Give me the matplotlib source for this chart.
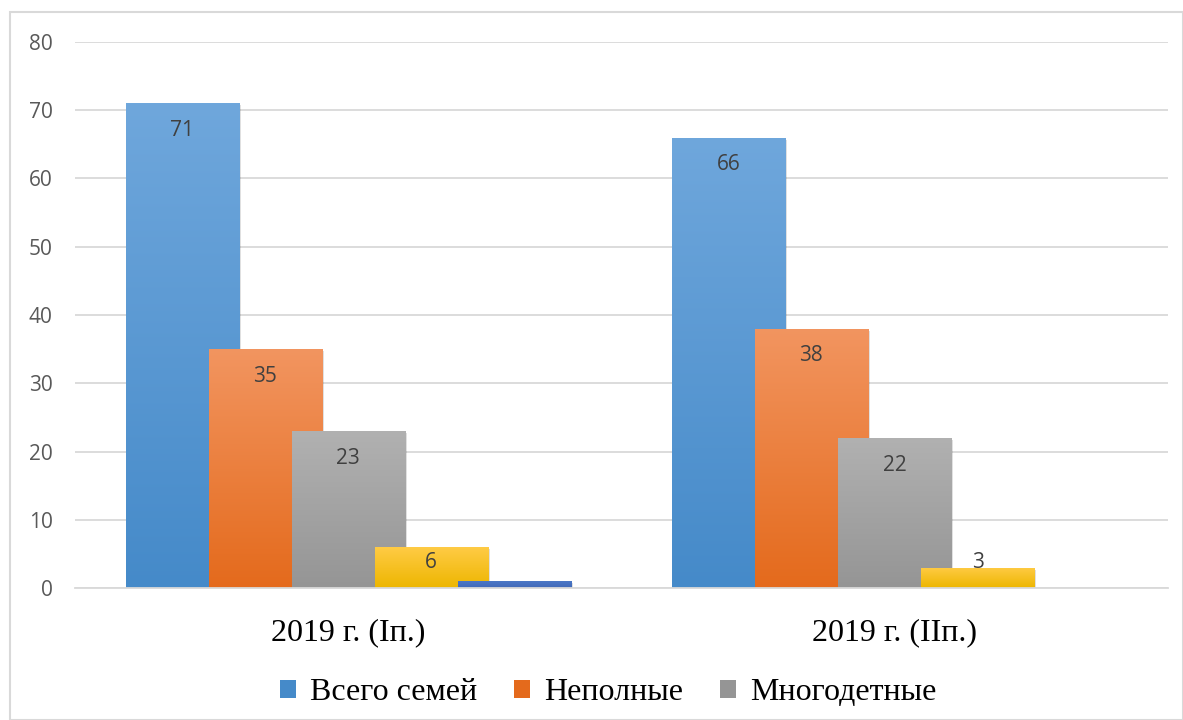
import numpy as np
import matplotlib.pyplot as plt
from matplotlib.patches import Rectangle
from matplotlib.colors import LinearSegmentedColormap

categories = ['2019 г. (Iп.)', '2019 г. (IIп.)']
series_names = ['Всего семей', 'Неполные', 'Многодетные', '', '']
values = [
    [71, 66],   # Всего семей
    [35, 38],   # Неполные
    [23, 22],   # Многодетные
    [6, 3],     # без подписи (жёлтый)
    [1, 0],     # без подписи (синий)
]
show_labels = [True, True, True, True, False]

# цвета градиента: верх, низ
grad = [
    ('#6FA7DC', '#458AC9'),
    ('#F29560', '#E46A1C'),
    ('#B1B1B1', '#959595'),
    ('#FFCB45', '#EDB600'),
    ('#4A76C6', '#4169B8'),
]

fig = plt.figure(figsize=(11.83, 7.2), dpi=100)
ax = fig.add_axes([0.0634, 0.1833, 0.9236, 0.7584])

# рамка вокруг диаграммы
fig.patches.append(Rectangle((10 / 1183, 0), 1 - 10 / 1183, 1 - 12 / 720,
                             transform=fig.transFigure, fill=False,
                             edgecolor='#D9D9D9', linewidth=1.5))

x = np.arange(len(categories))
step = 0.152
width = 0.207
n = len(values)

ax.set_xlim(-0.5, 1.5)
ax.set_ylim(0, 80)

for i in range(n):
    cmap = LinearSegmentedColormap.from_list('g%d' % i, [grad[i][1], grad[i][0]])
    for j, xc in enumerate(x):
        v = values[i][j]
        if v <= 0:
            continue
        left = xc + (i - (n - 1) / 2) * step - width / 2
        # тень
        ax.add_patch(Rectangle((left + 0.004, -0.3), width, v, facecolor='#000000',
                               alpha=0.12, edgecolor='none', zorder=2 + i * 0.1))
        r = Rectangle((left, 0), width, v, facecolor='none', edgecolor='none',
                      zorder=2 + i * 0.1 + 0.05)
        ax.add_patch(r)
        g = np.linspace(0, 1, 256).reshape(-1, 1)
        im = ax.imshow(g, cmap=cmap, origin='lower', aspect='auto',
                       extent=(left, left + width, 0, v), zorder=2 + i * 0.1 + 0.05)
        im.set_clip_path(r)
        if show_labels[i]:
            ly = v - 4 if v > 8 else max(v - 2.2, 3.7)
            ax.text(left + width / 2, ly, str(v), ha='center', va='center',
                    fontsize=15, color='#404040', family='Open Sans', zorder=10)

ax.set_xlim(-0.5, 1.5)
ax.set_ylim(0, 80)
ax.set_yticks(np.arange(0, 81, 10))
ax.set_xticks(x)
ax.set_xticklabels(categories, family='Liberation Serif', fontsize=23, color='#000000')
ax.tick_params(axis='x', length=0, pad=22)
ax.tick_params(axis='y', length=0, pad=16, labelsize=15, labelcolor='#595959')
for lab in ax.get_yticklabels():
    lab.set_fontname('Open Sans')
ax.grid(axis='y', color='#D9D9D9', linewidth=1.3, zorder=0)
ax.set_axisbelow(True)
for s in ['top', 'right', 'left']:
    ax.spines[s].set_visible(False)
ax.spines['bottom'].set_color('#D9D9D9')
ax.spines['bottom'].set_linewidth(1.3)

handles = [Rectangle((0, 0), 1, 1, facecolor=grad[i][1], edgecolor='none') for i in range(3)]
fig.legend(handles, series_names[:3], loc='center', bbox_to_anchor=(0.514, 0.038),
           ncol=3, frameon=False, prop={'family': 'Liberation Serif', 'size': 23},
           handlelength=0.5, handleheight=0.5, handletextpad=0.45, columnspacing=1.15)

fig.savefig('out.png', dpi=100)
